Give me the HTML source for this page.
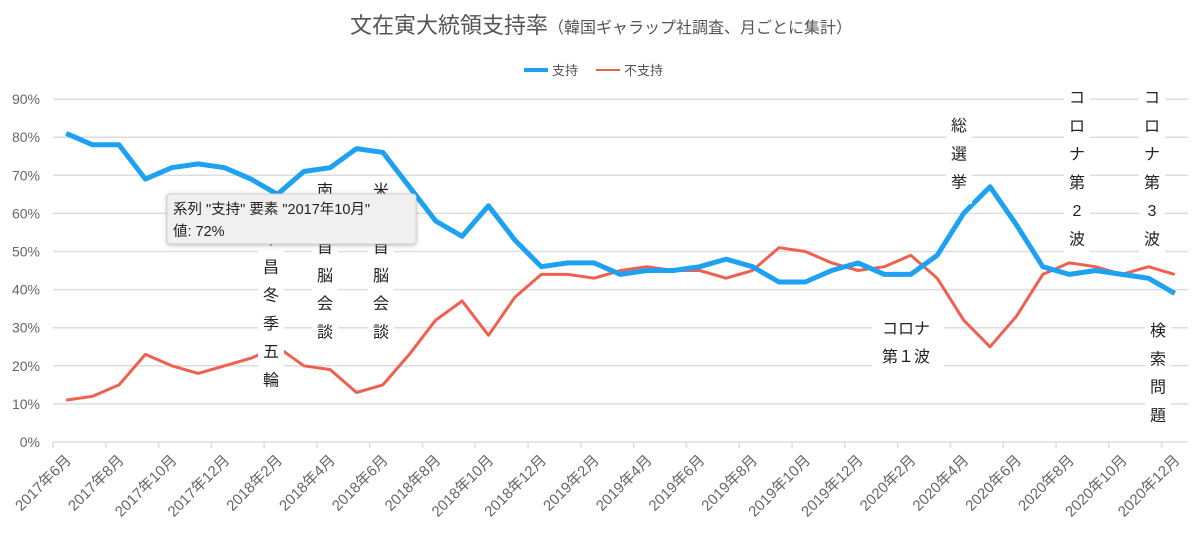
<!DOCTYPE html>
<html><head><meta charset="utf-8"><style>
body{margin:0;background:#fff;}
svg{display:block;font-family:"Liberation Sans","Noto Sans CJK JP",sans-serif;}
</style></head><body>
<svg id="s" width="1200" height="538" viewBox="0 0 1200 538">
<text x="601" y="33" text-anchor="middle" font-size="22" fill="#555">文在寅大統領支持率<tspan font-size="16">（韓国ギャラップ社調査、月ごとに集計）</tspan></text>
<line x1="524" y1="70" x2="548" y2="70" stroke="#1da1f2" stroke-width="4"/>
<text x="552" y="75" font-size="13" fill="#555">支持</text>
<line x1="596" y1="70" x2="620" y2="70" stroke="#f0604f" stroke-width="2"/>
<text x="624" y="75" font-size="13" fill="#555">不支持</text>
<g id="grid" stroke="#ddd" stroke-width="1.5"></g>
<g id="ylab" font-size="14" fill="#666" text-anchor="end"></g>
<g id="xlab" font-size="15" fill="#666"></g>
<polyline id="nsup" fill="none" stroke="#f0604f" stroke-width="3" stroke-linejoin="round"/>
<polyline id="sup" fill="none" stroke="#1da1f2" stroke-width="5" stroke-linejoin="round"/>
<g font-size="16" fill="#222" text-anchor="middle" id="ann"></g>
<g>
<rect x="167" y="194" width="249" height="50" rx="3" fill="#f0f0f0" stroke="#d0d0d0" style="filter:drop-shadow(0 1px 2px rgba(0,0,0,.25))"/>
<text x="173" y="214" font-size="14.5" fill="#222">系列 "支持" 要素 "2017年10月"</text>
<text x="173" y="236" font-size="14.5" fill="#222">値: 72%</text>
</g>
</svg>
<script>
const NS="http://www.w3.org/2000/svg";
function el(t,a,p,txt){const e=document.createElementNS(NS,t);for(const k in a)e.setAttribute(k,a[k]);if(txt!=null)e.textContent=txt;document.getElementById(p).appendChild(e);return e;}
const x0=53,x1=1188,n=43,cw=(x1-x0)/n,y0=442,dy=38.1;
const Y=v=>y0-v/10*dy;
for(let i=0;i<=9;i++){el('line',{x1:x0,x2:x1,y1:Y(i*10),y2:Y(i*10)},'grid');el('text',{x:40,y:Y(i*10)+5},'ylab',i*10+'%');}
for(let i=0;i<=n;i+=2){el('line',{x1:x0+i*cw,x2:x0+i*cw,y1:y0,y2:y0+6},'grid');}
for(let i=0;i<n;i+=2){const m=(5+i)%12+1,yr=2017+Math.floor((5+i)/12);const x=x0+i*cw+19,y=y0+19;el('text',{x:x,y:y,'text-anchor':'end',transform:`rotate(-45 ${x} ${y})`},'xlab',yr+'年'+m+'月');}
const s=[81,78,78,69,72,73,72,69,65,71,72,77,76,67,58,54,62,53,46,47,47,44,45,45,46,48,46,42,42,45,47,44,44,49,60,67,57,46,44,45,44,43,39];
const d=[11,12,15,23,20,18,20,22,25,20,19,13,15,23,32,37,28,38,44,44,43,45,46,45,45,43,45,51,50,47,45,46,49,43,32,25,33,44,47,46,44,46,44];
const pts=a=>a.map((v,i)=>(x0+cw*(i+.5)).toFixed(1)+','+Y(v).toFixed(1)).join(' ');
document.getElementById('sup').setAttribute('points',pts(s));
document.getElementById('nsup').setAttribute('points',pts(d));
function vt(x,y,str,step){const chars=[...str];el('rect',{x:x-13,y:y-18,width:26,height:chars.length*step+6,fill:'#fff'},'ann');chars.forEach((c,i)=>el('text',{x:x,y:y+i*step},'ann',c));}
vt(271,244,'平昌冬季五輪',28.3);
vt(325,196,'南北首脳会談',28.3);
vt(381,196,'米朝首脳会談',28.3);
vt(959,131,'総選挙',28.3);
vt(1077,103,'コロナ第2波',28.3);
vt(1152,103,'コロナ第3波',28.3);
vt(1158,336,'検索問題',28.3);
el('rect',{x:872,y:312,width:72,height:58,fill:'#fff'},'ann');
el('text',{x:906,y:334},'ann','コロナ');
el('text',{x:906,y:362},'ann','第１波');
</script>
</body></html>
